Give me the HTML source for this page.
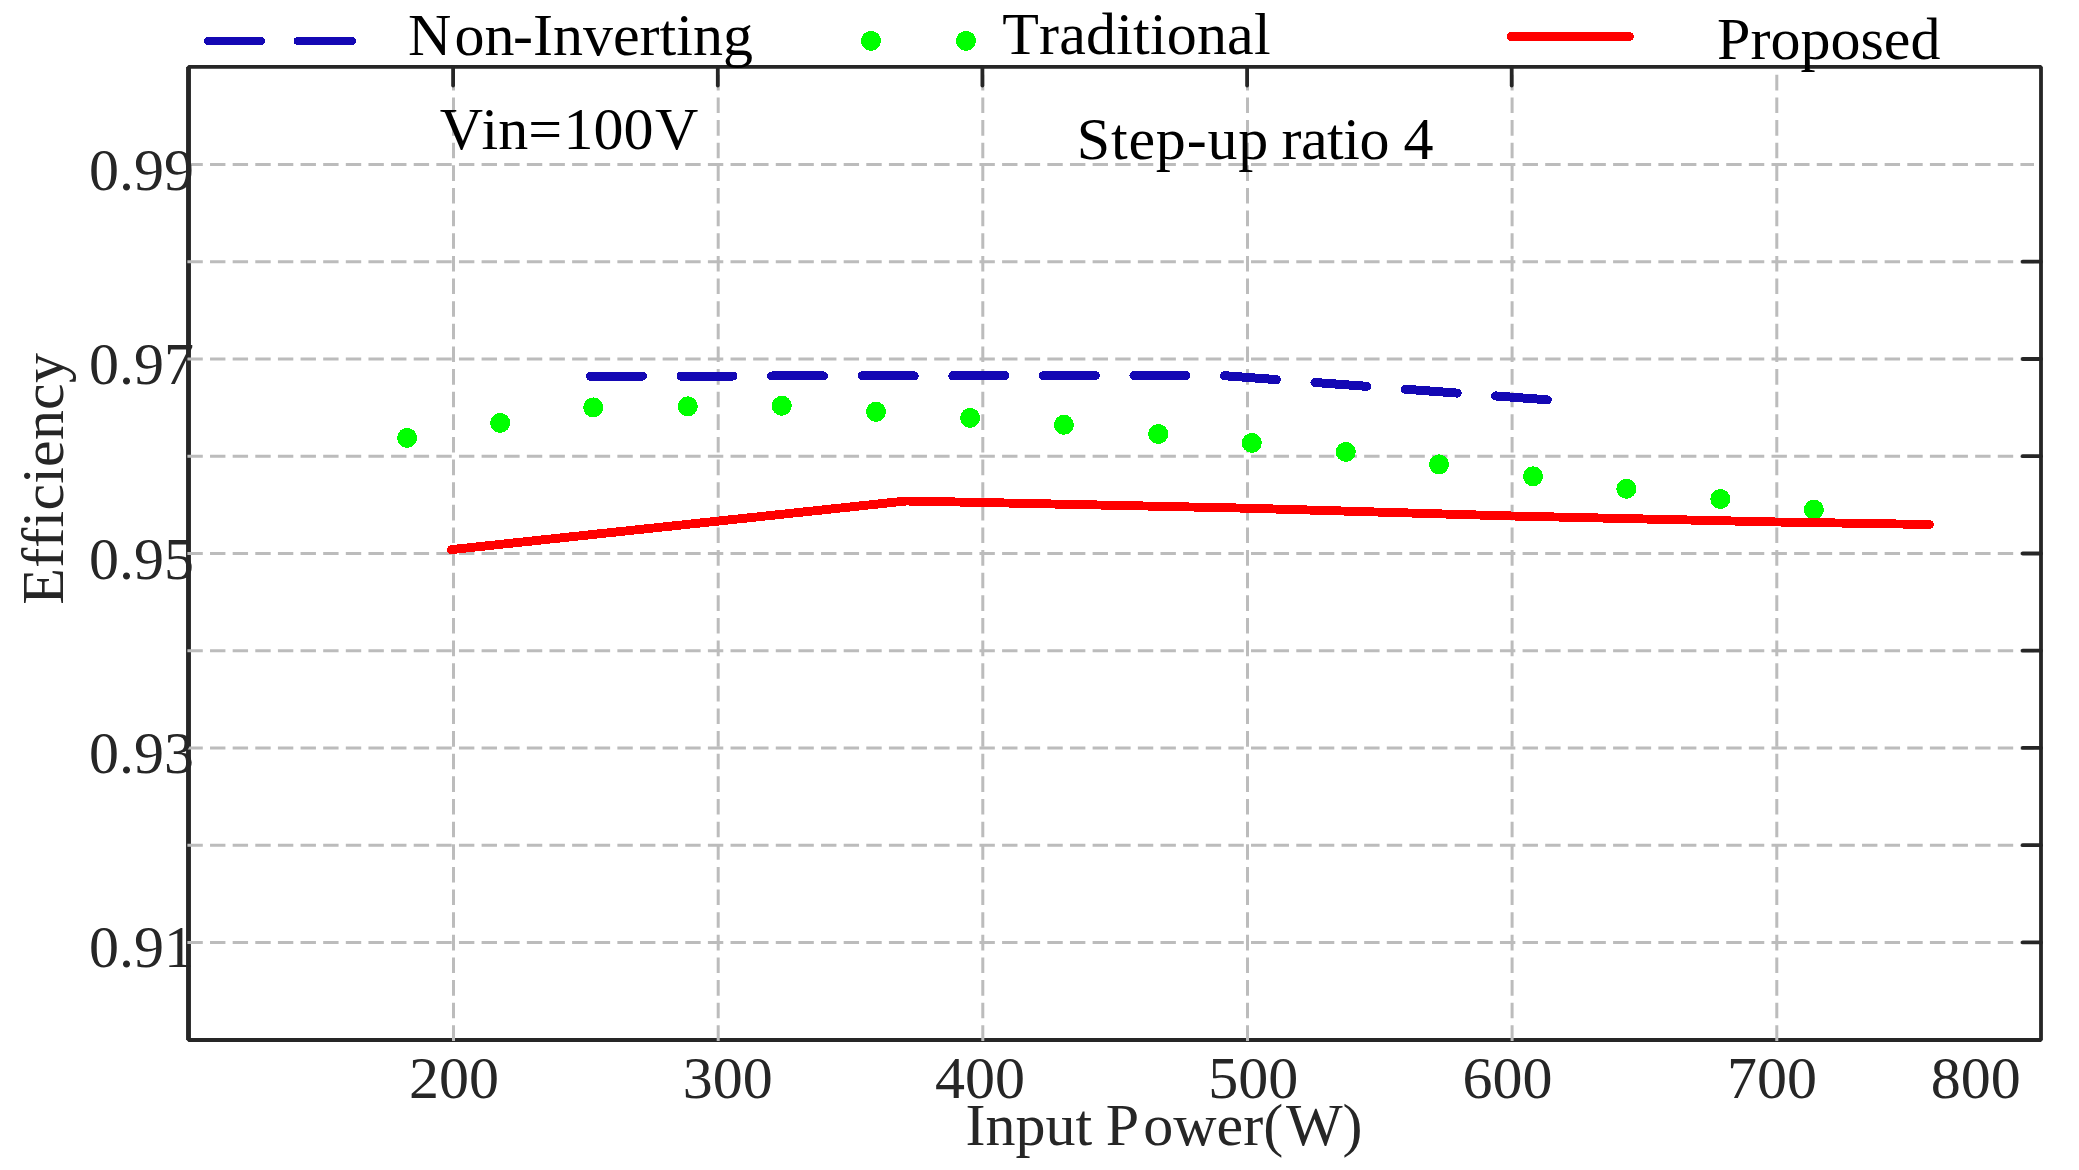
<!DOCTYPE html>
<html lang="en"><head><meta charset="utf-8"><title>Efficiency vs Input Power</title>
<style>html,body{margin:0;padding:0;background:#fff;}body{width:2079px;height:1170px;overflow:hidden;}svg{display:block;}text{font-family:"Liberation Serif","Times New Roman",serif;font-size:60px;font-kerning:none;}</style></head><body>
<svg width="2079" height="1170" viewBox="0 0 2079 1170">
<rect x="0" y="0" width="2079" height="1170" fill="#ffffff"/>
<rect x="188.5" y="66.9" width="1852.5" height="973.1" fill="none" stroke="#262626" stroke-width="3.8" stroke-linejoin="bevel"/>
<line x1="188.50" y1="66.9" x2="188.50" y2="1040.0" stroke="#262626" stroke-width="4.8"/>
<g stroke="#bcbcbc" stroke-width="3" fill="none">
<line x1="187.4" y1="164.5" x2="2034" y2="164.5" stroke-dasharray="15.4 7.23"/>
<line x1="187.4" y1="261.7" x2="2034" y2="261.7" stroke-dasharray="15.4 7.23"/>
<line x1="187.4" y1="359.0" x2="2034" y2="359.0" stroke-dasharray="15.4 7.23"/>
<line x1="187.4" y1="456.2" x2="2034" y2="456.2" stroke-dasharray="15.4 7.23"/>
<line x1="187.4" y1="553.5" x2="2034" y2="553.5" stroke-dasharray="15.4 7.23"/>
<line x1="187.4" y1="650.7" x2="2034" y2="650.7" stroke-dasharray="15.4 7.23"/>
<line x1="187.4" y1="747.9" x2="2034" y2="747.9" stroke-dasharray="15.4 7.23"/>
<line x1="187.4" y1="845.2" x2="2034" y2="845.2" stroke-dasharray="15.4 7.23"/>
<line x1="187.4" y1="942.4" x2="2034" y2="942.4" stroke-dasharray="15.4 7.23"/>
<line x1="453.5" y1="1040.9" x2="453.5" y2="74.8" stroke-dasharray="15.6 7.03"/>
<line x1="718.2" y1="1040.9" x2="718.2" y2="74.8" stroke-dasharray="15.6 7.03"/>
<line x1="982.8" y1="1040.9" x2="982.8" y2="74.8" stroke-dasharray="15.6 7.03"/>
<line x1="1247.5" y1="1040.9" x2="1247.5" y2="74.8" stroke-dasharray="15.6 7.03"/>
<line x1="1512.1" y1="1040.9" x2="1512.1" y2="74.8" stroke-dasharray="15.6 7.03"/>
<line x1="1776.8" y1="1040.9" x2="1776.8" y2="74.8" stroke-dasharray="15.6 7.03"/>
</g>
<g fill="#00ff00" shape-rendering="crispEdges">
<circle cx="407.1" cy="437.9" r="10"/>
<circle cx="500.2" cy="422.9" r="10"/>
<circle cx="593.2" cy="407.4" r="10"/>
<circle cx="687.8" cy="406.3" r="10"/>
<circle cx="781.8" cy="405.8" r="10"/>
<circle cx="876.0" cy="411.8" r="10"/>
<circle cx="970.1" cy="417.9" r="10"/>
<circle cx="1063.9" cy="424.8" r="10"/>
<circle cx="1158.2" cy="434.0" r="10"/>
<circle cx="1251.8" cy="442.9" r="10"/>
<circle cx="1345.8" cy="451.9" r="10"/>
<circle cx="1439.0" cy="464.4" r="10"/>
<circle cx="1533.0" cy="476.3" r="10"/>
<circle cx="1626.3" cy="488.8" r="10"/>
<circle cx="1720.3" cy="499.0" r="10"/>
<circle cx="1813.9" cy="509.7" r="10"/>
</g>
<path d="M590.4 376.3 L1219 375.3 L1547.3 399.8" fill="none" stroke="#1408b4" stroke-width="9" stroke-linecap="round" stroke-dasharray="52 38.6" shape-rendering="crispEdges"/>
<path d="M451.4 549.6 L906 501 L983 502.5 L1247 508.2 L1512 516 L1777 522 L1929.4 524.5" fill="none" stroke="#ff0000" stroke-width="8.9" stroke-linecap="round" stroke-linejoin="round" shape-rendering="crispEdges"/>
<g stroke="#262626" stroke-width="3.8" stroke-linecap="round">
<line x1="453.1" y1="66.9" x2="453.1" y2="85.5"/>
<line x1="717.8" y1="66.9" x2="717.8" y2="85.5"/>
<line x1="982.4" y1="66.9" x2="982.4" y2="85.5"/>
<line x1="1247.1" y1="66.9" x2="1247.1" y2="85.5"/>
<line x1="1511.7" y1="66.9" x2="1511.7" y2="85.5"/>
<line x1="2022.7" y1="261.7" x2="2041.0" y2="261.7"/>
<line x1="2022.7" y1="359.0" x2="2041.0" y2="359.0"/>
<line x1="2022.7" y1="456.2" x2="2041.0" y2="456.2"/>
<line x1="2022.7" y1="553.5" x2="2041.0" y2="553.5"/>
<line x1="2022.7" y1="650.7" x2="2041.0" y2="650.7"/>
<line x1="2022.7" y1="747.9" x2="2041.0" y2="747.9"/>
<line x1="2022.7" y1="845.2" x2="2041.0" y2="845.2"/>
<line x1="2022.7" y1="942.4" x2="2041.0" y2="942.4"/>
</g>
<g stroke="#1408b4" stroke-width="8" stroke-linecap="round" shape-rendering="crispEdges"><line x1="207.9" y1="41" x2="261" y2="41"/><line x1="297.8" y1="41" x2="351.9" y2="41"/></g>
<g fill="#00ff00" shape-rendering="crispEdges"><circle cx="871" cy="40.9" r="10"/><circle cx="966" cy="40.9" r="10"/></g>
<line x1="1511.4" y1="36.5" x2="1629.5" y2="36.5" stroke="#ff0000" stroke-width="9" stroke-linecap="round" shape-rendering="crispEdges"/>
<g fill="#000000">
<text x="407.9" y="54.6">N<tspan dx="3.3">on</tspan><tspan dx="-1.5">-Inverting</tspan></text>
<text x="1002.2" y="54.1" textLength="268.4" lengthAdjust="spacing">Traditional</text>
<text x="1717.1" y="59.0">Proposed</text>
<text x="439.7" y="149.3">V<tspan dx="-1.5">in=</tspan><tspan dx="1.5">100</tspan><tspan dx="1.5">V</tspan></text>
<text x="1076.8" y="159.0"><tspan letter-spacing="0.8">Step-up</tspan><tspan dx="-2.1" letter-spacing="-0.5"> ratio</tspan><tspan dx="-0.3"> 4</tspan></text>
</g>
<g fill="#262626">
<text x="89.1" y="189.5">0.99</text>
<text x="89.1" y="384.0">0.97</text>
<text x="89.1" y="578.5">0.95</text>
<text x="89.1" y="772.9">0.93</text>
<text x="89.1" y="967.4">0.91</text>
<text x="408.9" y="1098.4">200</text>
<text x="682.7" y="1098.4">300</text>
<text x="935.0" y="1098.4">400</text>
<text x="1208.2" y="1098.4">500</text>
<text x="1462.5" y="1098.4">600</text>
<text x="1727.0" y="1098.4">700</text>
<text x="1930.8" y="1098.4">800</text>
<text x="965.5" y="1145">Input <tspan dx="-1.5">P</tspan><tspan dx="4.2">ower(</tspan><tspan dx="2.8">W)</tspan></text>
<text transform="translate(63.1 604.7) rotate(-90)" x="0" y="0" letter-spacing="0.2">Efficiency</text>
</g>
</svg></body></html>
